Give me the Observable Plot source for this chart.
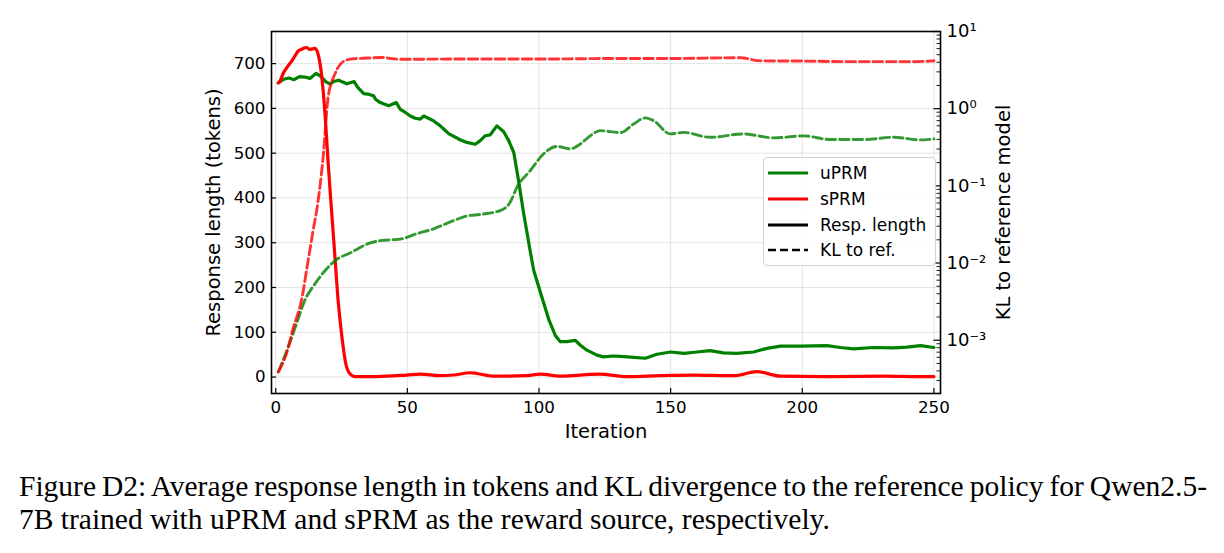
<!DOCTYPE html>
<html>
<head>
<meta charset="utf-8">
<script src="https://cdn.jsdelivr.net/npm/d3@7"></script>
<script src="https://cdn.jsdelivr.net/npm/@observablehq/plot@0.6"></script>
<style>
  html, body { margin: 0; padding: 0; background: #ffffff; }
  #wrap { position: relative; width: 1224px; height: 553px; overflow: hidden; }
  #chart { position: absolute; left: 0; top: 0; width: 1224px; height: 445px; }
  #chart > svg { position: absolute; left: 0; top: 0; }
  .legend { position: absolute; left: 763px; top: 157px; width: 173px; height: 109px;
    box-sizing: border-box; border: 1px solid #d4d4d4; border-radius: 4px;
    background: rgba(255,255,255,0.85); font-family: "DejaVu Sans"; font-size: 17px; color: #000; z-index: 5; }
  .legend .row { position: absolute; left: 0; height: 26px; display: flex; align-items: center; }
  .legend .row svg { display: block; margin-left: 4px; }
  .legend .row span { margin-left: 12px; white-space: nowrap; }
  .cap { position: absolute; left: 19px; font-family: "Liberation Serif", "Times New Roman", serif;
    font-size: 29.5px; line-height: 33px; color: #000; white-space: nowrap; }
</style>
</head>
<body>
<div id="wrap">
  <div id="chart"></div>
</div>
<script>
// ---------- data ----------
const xTicks = [0, 50, 100, 150, 200, 250];
const lenTicks = [0, 100, 200, 300, 400, 500, 600, 700];
const klTicks = [1e-3, 1e-2, 1e-1, 1, 10];
const klTickLabels = ["10\u207B\u00B3", "10\u207B\u00B2", "10\u207B\u00B9", "10\u2070", "10\u00B9"];

const seriesNames = ["uPRM", "sPRM"];
const seriesColors = ["#008000", "#ff0000"];
const styleNames = ["Resp. length", "KL to ref."];

// uPRM response length (tokens)
const uprmLenIter = [1, 3, 5, 7, 9, 11, 13, 15.3, 17, 19, 20.7, 22, 23.9, 25, 27, 29.8, 31, 33.4, 35, 37.2, 38, 39.7, 42.9, 45.8, 47.3, 49, 51.1, 53, 54.9, 56.2, 58, 60, 62.5, 64, 65.8, 68.8, 70, 72.6, 75.8, 77.7, 79.6, 81.5, 84, 86.6, 88.5, 90.4, 92.2, 94.1, 96.6, 98, 100.7, 103.8, 106.2, 108.1, 110.6, 113.8, 115.7, 118.2, 122, 124.5, 128, 131, 136, 140.4, 144.8, 150, 155, 160, 165, 170, 175, 181.5, 186.6, 191.7, 199.3, 209.4, 214.5, 219.5, 227, 234.7, 239.8, 244.9, 250];
const uprmLen = [657, 665, 668, 664, 671, 670, 667, 678, 672, 660, 654, 660, 663, 660, 655, 660, 648, 633, 632, 628, 620, 613, 606, 613, 598, 592, 583, 578, 576, 583, 578, 572, 561, 553, 543, 534, 530, 524, 520, 528, 539, 541, 561, 548, 528, 502, 440, 368, 283, 238, 186, 127, 93, 79, 79, 82, 71, 60, 49, 45, 47, 46, 44, 42, 51, 56, 53, 56, 59, 54, 53, 56, 64, 69, 69, 70, 66, 63, 66, 65, 67, 70, 66];

// sPRM response length (tokens)
const sprmLenIter = [1, 1.6, 3, 4.7, 6, 7.3, 8.5, 9.8, 11.7, 13, 14.9, 16.1, 17.4, 18.7, 19.9, 21.2, 22.5, 23.7, 25, 26.9, 28.8, 30.2, 38.4, 49.8, 54.9, 62.5, 67.5, 73.9, 76.4, 82.8, 95.4, 100.5, 108.1, 123, 133.4, 146, 158.7, 174, 182.8, 191.7, 212, 231, 243.6, 250];
const sprmLen = [657, 661, 680, 695, 705, 717, 728, 732, 736, 732, 734, 721, 676, 590, 480, 372, 268, 171, 97, 23, 4, 1, 1, 4.5, 6.7, 3, 4.5, 9.6, 8, 2, 3, 6.7, 2, 6.7, 1, 3, 4.5, 3, 12, 2, 1, 2, 1, 1];

// uPRM KL to reference model
const uprmKlIter = [1, 4.75, 7.9, 11.1, 14.9, 18.7, 22.5, 28.8, 35.1, 39.7, 47.3, 53.6, 60, 67.6, 72.6, 77.7, 85.3, 89.1, 91.6, 96.7, 101.7, 106.8, 111.9, 115.7, 119.5, 123.3, 131, 135.9, 140.4, 143.5, 149.9, 154.9, 165, 177.7, 189.1, 200.5, 210.7, 223.3, 234.7, 244.9, 250];
const uprmKl = [3.89e-4, 8.13e-4, 1.64e-3, 3.31e-3, 5.37e-3, 7.94e-3, 0.0107, 0.0138, 0.0178, 0.0195, 0.0204, 0.0240, 0.0278, 0.0355, 0.0407, 0.0427, 0.0479, 0.0617, 0.0955, 0.158, 0.259, 0.324, 0.302, 0.349, 0.447, 0.519, 0.490, 0.631, 0.759, 0.700, 0.471, 0.493, 0.426, 0.471, 0.418, 0.444, 0.398, 0.398, 0.426, 0.394, 0.406];

// sPRM KL to reference model
const sprmKlIter = [1, 4.1, 6.6, 9.8, 12.3, 14.2, 16, 18, 19.9, 22.5, 25.6, 29, 35, 40, 47, 73, 100, 130, 149, 176.5, 184, 199.3, 218, 242, 250];
const sprmKl = [3.89e-4, 6.76e-4, 1.41e-3, 3.31e-3, 0.0107, 0.0263, 0.0603, 0.234, 1.40, 2.82, 4.07, 4.42, 4.53, 4.61, 4.37, 4.40, 4.40, 4.47, 4.47, 4.57, 4.17, 4.14, 4.07, 4.07, 4.17];

// ---------- build tables ----------
const toRows = (iters, vals, series) => iters.map((it, i) => ({iter: it, value: vals[i], series}));
const lenRows = [...toRows(uprmLenIter, uprmLen, "uPRM"), ...toRows(sprmLenIter, sprmLen, "sPRM")];
const klRows = [...toRows(uprmKlIter, uprmKl, "uPRM"), ...toRows(sprmKlIter, sprmKl, "sPRM")];

const klMinor = [];
for (let k = -4; k <= 0; k++) for (let m = 2; m <= 9; m++) {
  const v = m * Math.pow(10, k);
  if (v >= 2.05e-4 && v <= 10) klMinor.push(v);
}

// ---------- layout ----------
const W = 1224, H = 445;
const mT = 31, mB = 52, mL = 271, mR = 284;
const frameW = W - mL - mR, frameH = H - mT - mB;
const xDomain = [-1.6, 252.5];
const colorScale = {domain: seriesNames, range: seriesColors};

const base = {
  width: W, height: H, marginTop: mT, marginBottom: mB, marginLeft: mL, marginRight: mR,
  x: {domain: xDomain, axis: null},
  color: colorScale
};

const left = Plot.plot({
  ...base,
  style: {fontFamily: "DejaVu Sans", fontSize: "16.7px", background: "white", overflow: "visible", color: "black"},
  y: {domain: [-36.75, 771.75], axis: null},
  marks: [
    Plot.gridX(xTicks, {stroke: "#b0b0b0", strokeOpacity: 0.35, strokeWidth: 1}),
    Plot.gridY(lenTicks, {stroke: "#b0b0b0", strokeOpacity: 0.35, strokeWidth: 1}),
    Plot.line(lenRows.filter(d => d.series === "uPRM"), {x: "iter", y: "value", stroke: "series", strokeWidth: 3.2, curve: "linear"}),
    Plot.line(lenRows.filter(d => d.series === "sPRM"), {x: "iter", y: "value", stroke: "series", strokeWidth: 3.2, curve: "monotone-x"}),
    Plot.tickX(xTicks, {x: d => d, insetTop: frameH - 5, stroke: "black", strokeWidth: 1.2}),
    Plot.tickY(lenTicks, {y: d => d, insetRight: frameW - 5, stroke: "black", strokeWidth: 1.2}),
    Plot.axisX(xTicks, {tickSize: 0, tickPadding: 8, label: null, fontSize: 16.7}),
    Plot.axisY(lenTicks, {tickSize: 0, tickPadding: 6, label: null, fontSize: 16.7}),
    Plot.frame({stroke: "black", strokeWidth: 1.6}),
    Plot.text(["Response length (tokens)"], {text: d => d, frameAnchor: "left", textAnchor: "middle", lineAnchor: "middle", dx: -58, rotate: -90, fontSize: 19.5}),
    Plot.text(["Iteration"], {text: d => d, frameAnchor: "bottom", textAnchor: "middle", lineAnchor: "middle", dy: 38, fontSize: 19.5})
  ]
});

const right = Plot.plot({
  ...base,
  style: {fontFamily: "DejaVu Sans", fontSize: "16.7px", background: "transparent", overflow: "visible", color: "black"},
  y: {type: "log", domain: [2.04e-4, 10], axis: null},
  marks: [
    Plot.line(klRows, {x: "iter", y: "value", z: "series", stroke: "series", strokeOpacity: 0.8, strokeWidth: 2.9, strokeDasharray: "9.5,4", curve: "monotone-x"}),
    Plot.tickY(klTicks, {y: d => d, insetLeft: frameW - 6.5, stroke: "black", strokeWidth: 1.2}),
    Plot.tickY(klMinor, {y: d => d, insetLeft: frameW - 3.5, stroke: "black", strokeWidth: 0.9}),
    Plot.axisY(klTicks, {anchor: "right", tickSize: 0, tickPadding: 6, label: null, fontSize: 18,
      tickFormat: d => klTickLabels[klTicks.indexOf(d)]}),
    Plot.text(["KL to reference model"], {text: d => d, frameAnchor: "right", textAnchor: "middle", lineAnchor: "middle", dx: 63, rotate: -90, fontSize: 19.5})
  ]
});

const chart = document.getElementById("chart");
chart.appendChild(left);
chart.appendChild(right);

// ---------- legend ----------
const legend = document.createElement("div");
legend.className = "legend";
const entries = [
  {label: seriesNames[0], color: seriesColors[0], dash: null},
  {label: seriesNames[1], color: seriesColors[1], dash: null},
  {label: styleNames[0], color: "#000000", dash: null},
  {label: styleNames[1], color: "#000000", dash: "8,4"}
];
entries.forEach((e, i) => {
  const row = document.createElement("div");
  row.className = "row";
  row.style.top = (1.7 + i * 25.9) + "px";
  row.innerHTML = `<svg width="40" height="10"><line x1="0" x2="40" y1="5" y2="5" stroke="${e.color}" stroke-width="${e.dash ? 2.7 : 3.2}" ${e.dash ? `stroke-dasharray="${e.dash}"` : ""}/></svg><span>${e.label}</span>`;
  legend.appendChild(row);
});
chart.appendChild(legend);

// ---------- caption ----------
const capLines = [
  "Figure D2: Average response length in tokens and KL divergence to the reference policy for Qwen2.5-",
  "7B trained with uPRM and sPRM as the reward source, respectively."
];
const wrap = document.getElementById("wrap");
capLines.forEach((t, i) => {
  const d = document.createElement("div");
  d.className = "cap";
  d.style.top = (470 + i * 33) + "px";
  d.textContent = t;
  wrap.appendChild(d);
  if (i === 0) {
    const w = d.getBoundingClientRect().width;
    const spaces = (t.match(/ /g) || []).length;
    d.style.wordSpacing = ((1188 - w) / spaces) + "px";
  }
});
</script>
</body>
</html>
